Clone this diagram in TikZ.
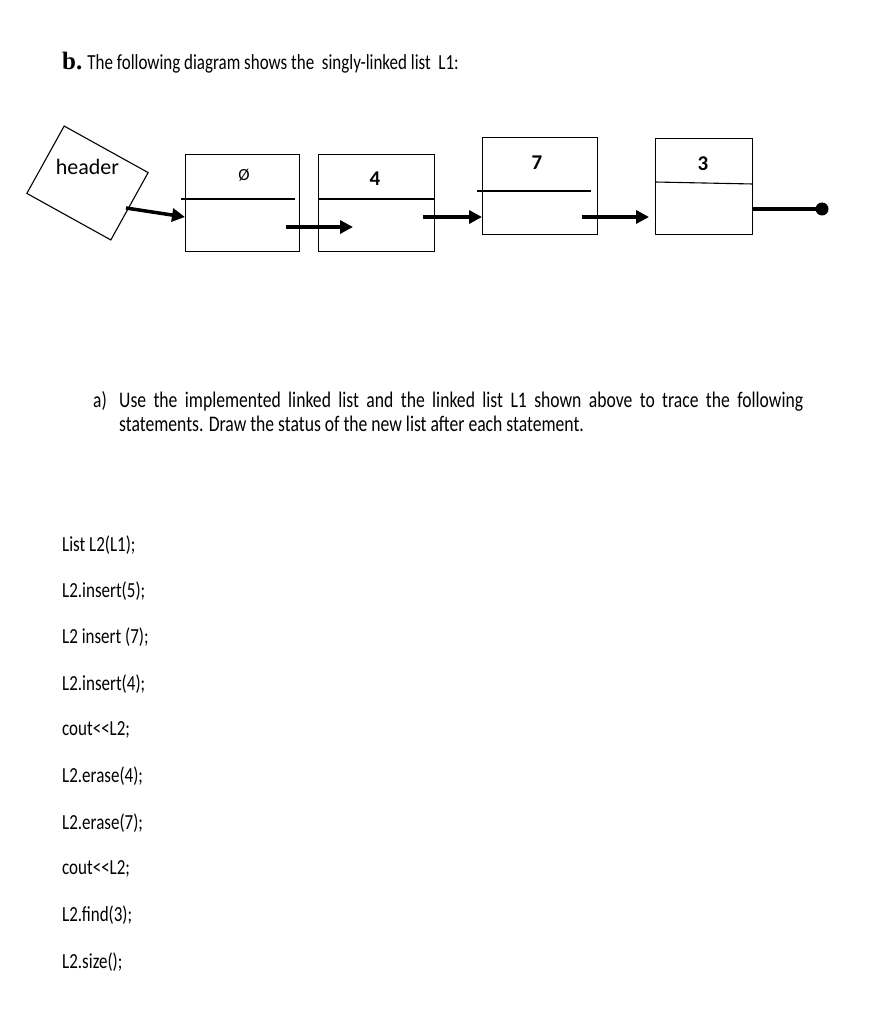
\documentclass[tikz,border=0pt]{standalone}
\usepackage{fontspec}
\setmainfont{Carlito}
\newfontfamily\narrowfont[FakeStretch=0.79]{Carlito}
\newfontfamily\titleserif{Liberation Serif}
\usetikzlibrary{arrows.meta,calc}

\tikzset{
  cell/.style={draw, line width=1.1pt, inner sep=0pt, anchor=north west},
  link/.style={line width=3.5pt, -{Triangle[length=13pt,width=13pt]}},
  stmt/.style={anchor=west, inner sep=0pt, font=\narrowfont\fontsize{21.5}{24}\selectfont},
  val/.style={font=\bfseries\fontsize{21}{24}\selectfont}
}

\begin{document}
\begin{tikzpicture}[x=1pt,y=-1pt]
\useasboundingbox (0,0) rectangle (873,1016);

% heading
\node[anchor=base west, inner sep=0pt, font=\narrowfont\fontsize{21.5}{24}\selectfont] (title) at (62,70)
  {{\titleserif\bfseries\fontsize{25}{26}\selectfont b.} The following diagram shows the\ \ singly-linked list\ \ L1:};

% header box
\node[draw, line width=1.1pt, rotate=-29, minimum width=96pt, minimum height=77pt] (header) at (87.5,183) {};
\node[anchor=base, inner sep=0pt, font=\fontsize{22}{24}\selectfont] (headertxt) at (87.5,175) {header};

% the four cells
\node[cell, minimum width=114pt, minimum height=97pt] (n0) at (185,154) {};
\node[cell, minimum width=116pt, minimum height=97pt] (n1) at (318,154) {};
\node[cell, minimum width=115pt, minimum height=97pt] (n2) at (482,137) {};
\node[cell, minimum width=97pt, minimum height=96pt] (n3) at (655,138) {};

\draw[line width=1.1pt] (181,199) -- (295,199);
\draw[line width=1.1pt] (n1.west |- 0,199) -- (n1.east |- 0,199);
\draw[line width=1.1pt] (477,191) -- (591,191);
\draw[line width=1.1pt] (n3.north west |- 0,182) -- (n3.north east |- 0,184);

\node[font=\fontsize{17}{18}\selectfont] (v0) at (244,175) {Ø};
\node[val] (v1) at (375,179) {4};
\node[val] (v2) at (537,163) {7};
\node[val] (v3) at (703,164) {3};

% links
\coordinate (p0) at (126,208);
\coordinate (p1) at (286,227);
\coordinate (p2) at (423,217);
\coordinate (p3) at (582,217);
\coordinate (pn) at (752,209);
\coordinate (nil) at (822,209);

\draw[link] (p0) -- (n0.west |- 0,217);
\draw[link] (p1) -- (353,227);
\draw[link] (p2) -- (n2.west |- 0,217);
\draw[link] (p3) -- (649,217);
\draw[line width=3.5pt] (pn) -- (nil);
\fill (nil) circle (6.5pt);

% question
\node[anchor=base west, inner sep=0pt, font=\narrowfont\fontsize{22}{24}\selectfont] (qa) at (93,407) {a)};
\node[anchor=base west, inner sep=0pt, text width=684pt, align=justify, font=\narrowfont\fontsize{22.3}{24}\selectfont] (qtext) at (119,407)
  {Use the implemented linked list and the linked list L1 shown above to trace the following\linebreak statements. Draw the status of the new list after each statement.};

% statements
\foreach \s [count=\i] in {List L2(L1);, L2.insert(5);, L2 insert (7);, L2.insert(4);, cout<{}<L2;,
    L2.erase(4);, L2.erase(7);, cout<{}<L2;, L2.find(3);, L2.size();}
  \node[stmt] (s\i) at (62,{545+46.3*(\i-1)}) {\s};
\end{tikzpicture}
\end{document}
